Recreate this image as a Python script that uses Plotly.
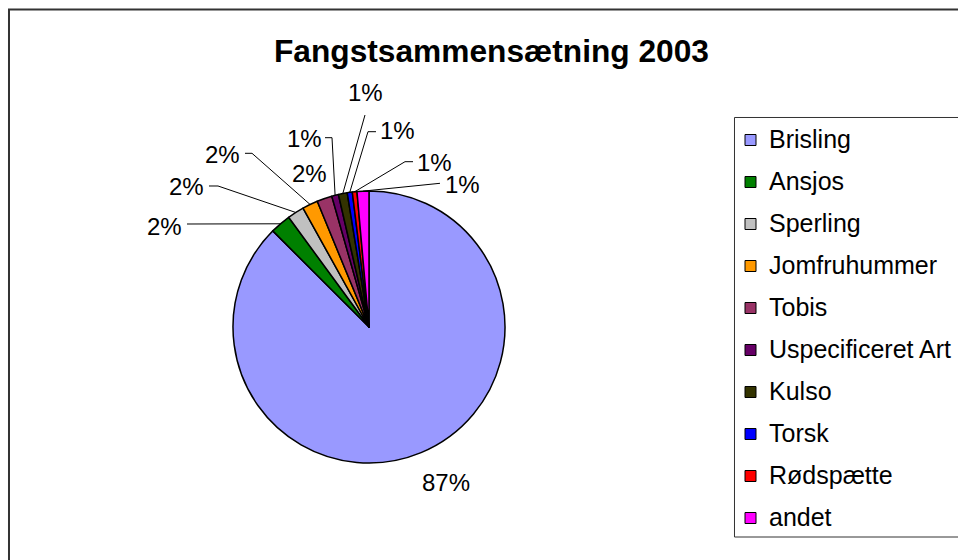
import math
import plotly.graph_objects as go

# ---- data ----
categories = ["Brisling", "Ansjos", "Sperling", "Jomfruhummer", "Tobis",
              "Uspecificeret Art", "Kulso", "Torsk", "Rødspætte", "andet"]
values = [87.49, 2.45, 2.0, 1.85, 1.8, 0.8, 1.05, 0.6, 0.55, 1.41]
colors = ["#9999FF", "#008000", "#C0C0C0", "#FF9900", "#993366",
          "#660066", "#333300", "#0000FF", "#FF0000", "#FF00FF"]
title_text = "Fangstsammensætning 2003"

# ---- layout geometry (page pixels) ----
FW, FH = 958, 560
CX, CY, R = 369, 327, 136
FONT = "Liberation Sans, Arial, sans-serif"

def px(x):
    return x / FW

def py(y):
    return 1 - y / FH

def path_of(pts):
    return "M " + " L ".join(f"{px(x):.5f},{py(y):.5f}" for x, y in pts)

# label text centres and leader lines (start, elbow) in pixels
label_pos = [(445.5, 482), (164.5, 226), (186, 186.5), (222.5, 154), (309.5, 173),
             (304.5, 138), (365.5, 93), (397.5, 130.5), (434.5, 162), (462.5, 184.5)]
leaders = [None, ((187, 224), None), ((209, 186), (218, 186)), ((245, 153.3), (252, 153.3)),
           None, ((325, 137.7), (332, 137.7)), ((365, 115), None),
           ((376, 131.7), (368, 131.7)), ((413, 161.7), (405, 161.7)), ((440, 183.3), None)]

fig = go.Figure(go.Pie(
    labels=categories, values=values, sort=False, direction="clockwise", rotation=0,
    marker=dict(colors=colors, line=dict(color="black", width=1.5)),
    textinfo="none", showlegend=False,
    domain=dict(x=[px(CX - R), px(CX + R)], y=[py(CY + R), py(CY - R)]),
))

shapes = []
annotations = []

# chart frame (only left and top edges are inside the picture)
shapes.append(dict(type="path", xref="paper", yref="paper",
                   path=path_of([(9, 570), (9, 9.5), (970, 9.5)]),
                   line=dict(color="#333333", width=2)))

# percent labels + leader lines computed from the data
total = sum(values)
cum = 0.0
for i, v in enumerate(values):
    mid = (cum + v / 2) / total * 2 * math.pi
    cum += v
    ax = CX + R * math.sin(mid)
    ay = CY - R * math.cos(mid)
    tx, ty = label_pos[i]
    annotations.append(dict(x=px(tx), y=py(ty), xref="paper", yref="paper",
                            text=f"{round(v / total * 100):.0f}%", showarrow=False,
                            xanchor="center", yanchor="middle",
                            font=dict(family=FONT, size=24, color="black")))
    if leaders[i] is not None:
        (sx, sy), elbow = leaders[i]
        pts = [(sx, sy)] + ([elbow] if elbow else []) + [(ax, ay)]
        shapes.append(dict(type="path", xref="paper", yref="paper", path=path_of(pts),
                           line=dict(color="black", width=1)))

# legend (manual, for Excel-like spacing); its right edge is outside the picture
LEG_X0, LEG_Y0, LEG_Y1 = 734.5, 117.5, 537
ROW0, ROW_STEP = 139, 42
shapes.append(dict(type="path", xref="paper", yref="paper",
                   path=path_of([(970, LEG_Y0), (LEG_X0, LEG_Y0), (LEG_X0, LEG_Y1), (970, LEG_Y1)]),
                   line=dict(color="#333333", width=1)))
for i, (name, col) in enumerate(zip(categories, colors)):
    yc = ROW0 + ROW_STEP * i
    shapes.append(dict(type="rect", xref="paper", yref="paper",
                       x0=px(745), x1=px(756), y0=py(yc + 6.5), y1=py(yc - 4.5),
                       fillcolor=col, line=dict(color="black", width=1)))
    annotations.append(dict(x=px(767), y=py(yc), xref="paper", yref="paper",
                            text=name, showarrow=False, xanchor="left", yanchor="middle",
                            font=dict(family=FONT, size=25, color="black")))

# title
annotations.append(dict(x=px(491), y=py(51), xref="paper", yref="paper",
                        text=f"<b>{title_text}</b>", showarrow=False,
                        xanchor="center", yanchor="middle",
                        font=dict(family=FONT, size=31.7, color="black")))

fig.update_layout(width=FW, height=FH, margin=dict(l=0, r=0, t=0, b=0),
                  paper_bgcolor="white", plot_bgcolor="white",
                  shapes=shapes, annotations=annotations)

fig.write_html("out.html", config={"displayModeBar": False},
               post_script="document.body.style.margin='0';"
                           "document.body.style.overflow='hidden';")
